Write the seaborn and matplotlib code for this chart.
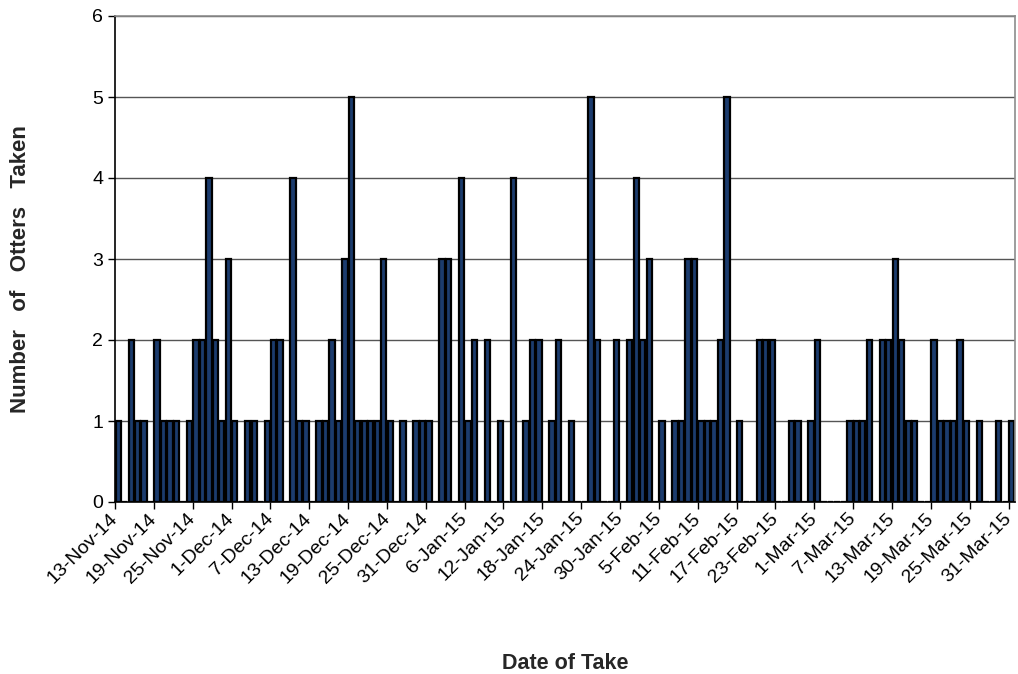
import matplotlib
matplotlib.use("Agg")
import matplotlib.pyplot as plt
import seaborn as sns
import pandas as pd
import numpy as np

# Daily number of otters taken, 13-Nov-14 .. 31-Mar-15 (139 days)
dates = pd.date_range("2014-11-13", "2015-03-31", freq="D").strftime("%Y-%m-%d").tolist()
counts = [
    1, 0, 2, 1, 1, 0, 2, 1, 1, 1,   # 13-Nov .. 22-Nov
    0, 1, 2, 2, 4, 2, 1, 3, 1, 0,   # 23-Nov .. 2-Dec
    1, 1, 0, 1, 2, 2, 0, 4, 1, 1,   # 3-Dec .. 12-Dec
    0, 1, 1, 2, 1, 3, 5, 1, 1, 1,   # 13-Dec .. 22-Dec
    1, 3, 1, 0, 1, 0, 1, 1, 1, 0,   # 23-Dec .. 1-Jan
    3, 3, 0, 4, 1, 2, 0, 2, 0, 1,   # 2-Jan .. 11-Jan
    0, 4, 0, 1, 2, 2, 0, 1, 2, 0,   # 12-Jan .. 21-Jan
    1, 0, 0, 5, 2, 0, 0, 2, 0, 2,   # 22-Jan .. 31-Jan
    4, 2, 3, 0, 1, 0, 1, 1, 3, 3,   # 1-Feb .. 10-Feb
    1, 1, 1, 2, 5, 0, 1, 0, 0, 2,   # 11-Feb .. 20-Feb
    2, 2, 0, 0, 1, 1, 0, 1, 2, 0,   # 21-Feb .. 2-Mar
    0, 0, 0, 1, 1, 1, 2, 0, 2, 2,   # 3-Mar .. 12-Mar
    3, 2, 1, 1, 0, 0, 2, 1, 1, 1,   # 13-Mar .. 22-Mar
    2, 1, 0, 1, 0, 0, 1, 0, 1,      # 23-Mar .. 31-Mar
]
tick_labels = [
    "13-Nov-14", "19-Nov-14", "25-Nov-14", "1-Dec-14", "7-Dec-14", "13-Dec-14",
    "19-Dec-14", "25-Dec-14", "31-Dec-14", "6-Jan-15", "12-Jan-15", "18-Jan-15",
    "24-Jan-15", "30-Jan-15", "5-Feb-15", "11-Feb-15", "17-Feb-15", "23-Feb-15",
    "1-Mar-15", "7-Mar-15", "13-Mar-15", "19-Mar-15", "25-Mar-15", "31-Mar-15",
]
y_ticks = [0, 1, 2, 3, 4, 5, 6]

df = pd.DataFrame({"date": dates, "count": counts})

sns.set_theme(style="white")
plt.rcParams["font.family"] = ["Liberation Sans", "DejaVu Sans"]

fig, ax = plt.subplots(figsize=(10.18, 6.74), dpi=100)
fig.subplots_adjust(left=115 / 1018, right=1015 / 1018, top=1 - 16 / 674, bottom=1 - 502 / 674)

sns.barplot(data=df, x="date", y="count", order=dates, color="#1C3C6E",
            saturation=1, edgecolor="black", linewidth=1.6, width=0.82,
            errorbar=None, ax=ax)

n = len(dates)
ax.set_xlim(-0.5, n - 0.5)
ax.set_ylim(0, 6)
ax.set_yticks(y_ticks)
ax.set_yticklabels([str(v) for v in y_ticks])
ax.set_xticks(np.arange(0, n, 6) - 0.5)
ax.set_xticklabels(tick_labels, rotation=45, ha="right", va="center",
                   rotation_mode="anchor")

ax.yaxis.grid(True, color="#555555", linewidth=1)
ax.xaxis.grid(False)
ax.set_axisbelow(True)

for side in ["left", "bottom"]:
    ax.spines[side].set_color("black")
    ax.spines[side].set_linewidth(1.2)
for side in ["top", "right"]:
    ax.spines[side].set_color("#8c8c8c")
    ax.spines[side].set_linewidth(1.2)

ax.tick_params(axis="both", which="major", direction="out", length=5, width=1,
               color="black", labelsize=14, labelcolor="black",
               left=True, bottom=True)
ax.tick_params(axis="x", pad=5)

ax.set_xlabel("Date of Take", fontsize=15.5, fontweight="bold", labelpad=48)
ax.set_ylabel("Number   of   Otters   Taken", fontsize=16, fontweight="bold")
ax.yaxis.set_label_coords(-0.0933, 0.479)

fig.savefig("out.png", dpi=100, facecolor="white")
